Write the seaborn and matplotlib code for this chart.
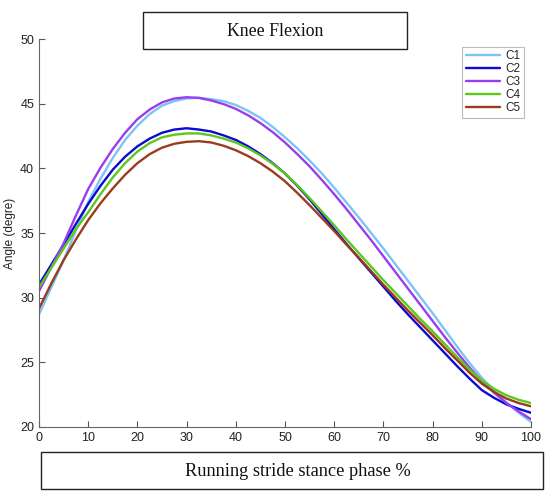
import numpy as np
import pandas as pd
import seaborn as sns
import matplotlib.pyplot as plt
from matplotlib.patches import Rectangle

# stance phase (%) every 2.5 and knee angles
phase = [i * 2.5 for i in range(41)]
c1 = [28.7, 30.8, 32.9, 35.2, 37.4, 39.2, 40.8, 42.2, 43.3, 44.2, 44.85, 45.2, 45.4, 45.45, 45.35, 45.2,
      44.9, 44.45, 43.9, 43.2, 42.4, 41.55, 40.6, 39.6, 38.5, 37.35, 36.2, 35.0, 33.8, 32.55, 31.3,
      30.05, 28.8, 27.5, 26.2, 24.95, 23.8, 22.8, 21.9, 21.1, 20.4]
c2 = [31.0, 32.55, 34.1, 35.7, 37.25, 38.65, 39.9, 40.9, 41.7, 42.3, 42.75, 43.0, 43.1, 43.0, 42.85, 42.55,
      42.2, 41.7, 41.1, 40.4, 39.6, 38.65, 37.6, 36.45, 35.3, 34.15, 33.05, 31.95, 30.85, 29.75, 28.7,
      27.7, 26.7, 25.7, 24.7, 23.75, 22.85, 22.25, 21.75, 21.4, 21.1]
c3 = [30.5, 32.35, 34.2, 36.35, 38.4, 40.05, 41.5, 42.75, 43.8, 44.55, 45.1, 45.4, 45.5, 45.45, 45.25, 44.97,
      44.6, 44.1, 43.5, 42.8, 42.0, 41.1, 40.15, 39.1, 38.0, 36.85, 35.65, 34.45, 33.2, 31.95, 30.7,
      29.45, 28.2, 26.95, 25.75, 24.6, 23.55, 22.65, 21.85, 21.2, 20.6]
c4 = [30.8, 32.3, 33.8, 35.3, 36.6, 38.0, 39.3, 40.4, 41.3, 41.95, 42.4, 42.6, 42.7, 42.7, 42.55, 42.3,
      42.0, 41.55, 41.0, 40.35, 39.6, 38.7, 37.7, 36.65, 35.6, 34.5, 33.45, 32.4, 31.35, 30.35, 29.35,
      28.35, 27.4, 26.4, 25.4, 24.45, 23.6, 22.95, 22.45, 22.1, 21.85]
c5 = [29.15, 31.1, 32.9, 34.5, 36.0, 37.3, 38.45, 39.5, 40.4, 41.1, 41.6, 41.9, 42.05, 42.1, 42.0, 41.75,
      41.4, 40.95, 40.4, 39.75, 39.0, 38.1, 37.15, 36.15, 35.15, 34.1, 33.1, 32.05, 31.0, 30.0, 29.0,
      28.05, 27.1, 26.1, 25.15, 24.2, 23.35, 22.7, 22.2, 21.85, 21.6]

names = ['C1', 'C2', 'C3', 'C4', 'C5']
colors = {'C1': '#7cc4f4', 'C2': '#0a0ad0', 'C3': '#9a3cf0', 'C4': '#5cc81c', 'C5': '#9a3c1c'}

df = pd.DataFrame({'phase': phase * 5,
                   'angle': c1 + c2 + c3 + c4 + c5,
                   'curve': np.repeat(names, len(phase))})

sns.set_style('ticks')
plt.rcParams['font.family'] = ['Liberation Sans', 'DejaVu Sans']

fig = plt.figure(figsize=(5.5, 4.99), dpi=100)
ax = fig.add_axes([0.0709, 0.1443, 0.8946, 0.7775])

sns.lineplot(data=df, x='phase', y='angle', hue='curve', palette=colors,
             linewidth=1.7, ax=ax)

ax.set_xlim(0, 100)
ax.set_ylim(20, 50)
ax.set_xticks(range(0, 101, 10))
ax.set_yticks(range(20, 51, 5))
ax.tick_params(direction='in', length=4, width=0.8, color='#555555', labelsize=9, labelcolor='#222222')
for s in ['top', 'right']:
    ax.spines[s].set_visible(False)
for s in ['left', 'bottom']:
    ax.spines[s].set_color('#666666')
    ax.spines[s].set_linewidth(0.8)
ax.set_xlabel('')
ax.set_ylabel('Angle (degre)', fontsize=8.5, color='#222222', labelpad=3)

leg = ax.legend(loc='upper right', bbox_to_anchor=(0.985, 0.98), fontsize=8.5,
                frameon=True, fancybox=False, handlelength=2.9, handletextpad=0.4,
                borderpad=0.3, labelspacing=0.08, borderaxespad=0)
leg.get_frame().set_edgecolor('#aaaaaa')
leg.get_frame().set_linewidth(0.8)
for line in leg.get_lines():
    line.set_linewidth(1.7)

# boxed title and x label, as in the original figure
W, H = 550, 499
fig.add_artist(Rectangle((143 / W, 1 - 49 / H), 264 / W, 37 / H, transform=fig.transFigure,
                         fill=False, edgecolor='#222222', linewidth=1.0))
fig.text(275 / W, 1 - 31 / H, 'Knee Flexion', ha='center', va='center',
         fontsize=12.8, family='Liberation Serif', color='#111111')
fig.add_artist(Rectangle((41 / W, 1 - 489 / H), 502 / W, 37 / H, transform=fig.transFigure,
                         fill=False, edgecolor='#222222', linewidth=1.0))
fig.text(298 / W, 1 - 471 / H, 'Running stride stance phase %', ha='center', va='center',
         fontsize=13.2, family='Liberation Serif', color='#111111')

fig.savefig('out.png', dpi=100)
